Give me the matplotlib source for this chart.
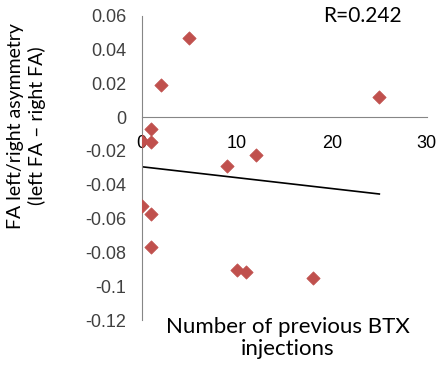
import matplotlib
matplotlib.use("Agg")
import matplotlib.pyplot as plt
import numpy as np

# number of previous BTX injections vs FA asymmetry
injections = [5, 2, 25, 1, 1, 0, 9, 12, 0, 1, 1, 10, 11, 18]
asymmetry = [0.047, 0.019, 0.012, -0.007, -0.0148, -0.0139, -0.0288, -0.0227,
             -0.0526, -0.0573, -0.0766, -0.0906, -0.0919, -0.095]
x_ticks = [0, 10, 20, 30]
y_ticks = [0.06, 0.04, 0.02, 0, -0.02, -0.04, -0.06, -0.08, -0.1, -0.12]
y_ticklabels = ['0.06', '0.04', '0.02', '0', '-0.02', '-0.04', '-0.06', '-0.08', '-0.1', '-0.12']

red = '#C0504D'
axis_gray = '#868686'

fig = plt.figure(figsize=(4.47, 3.73), dpi=100)
ax = fig.add_axes([0.3166, 0.142, 0.955 - 0.3166, 0.9584 - 0.142])

ax.scatter(injections, asymmetry, marker='D', s=46, color=red, edgecolors=red,
           linewidths=0.5, zorder=3)

# linear trendline
slope, icpt = np.polyfit(injections, asymmetry, 1)
xs = np.array([0, max(injections)])
ax.plot(xs, slope * xs + icpt, color='black', lw=1.2, zorder=2)

ax.set_xlim(0, 30)
ax.set_ylim(-0.12, 0.06)
ax.set_xticks(x_ticks)
ax.set_yticks(y_ticks)
ax.set_yticklabels(y_ticklabels)

for s in ['top', 'right']:
    ax.spines[s].set_visible(False)
ax.spines['bottom'].set_position(('data', 0))
ax.spines['left'].set_color(axis_gray)
ax.spines['bottom'].set_color(axis_gray)
ax.tick_params(length=0, labelsize=13, labelcolor='#404040')
ax.tick_params(axis='y', pad=11)
ax.tick_params(axis='x', pad=13, labelcolor='black')
for lab in ax.get_xticklabels() + ax.get_yticklabels():
    lab.set_family('Liberation Sans')
for lab in ax.get_xticklabels():
    lab.set_zorder(5)

fig.text(0.06, 1 - 126 / 373, 'FA left/right asymmetry\n(left FA \u2013 right FA)',
         rotation=90, ha='center', va='center', multialignment='center',
         family='Lato', fontsize=14, linespacing=1.25)
fig.text(288 / 447, 1 - 338 / 373, 'Number of previous BTX\ninjections',
         ha='center', va='center', multialignment='center',
         family='Lato', fontsize=16, linespacing=1.15)
fig.text(362 / 447, 1 - 16 / 373, 'R=0.242', ha='center', va='center',
         family='Lato', fontsize=15)

fig.savefig('out.png', dpi=100)
